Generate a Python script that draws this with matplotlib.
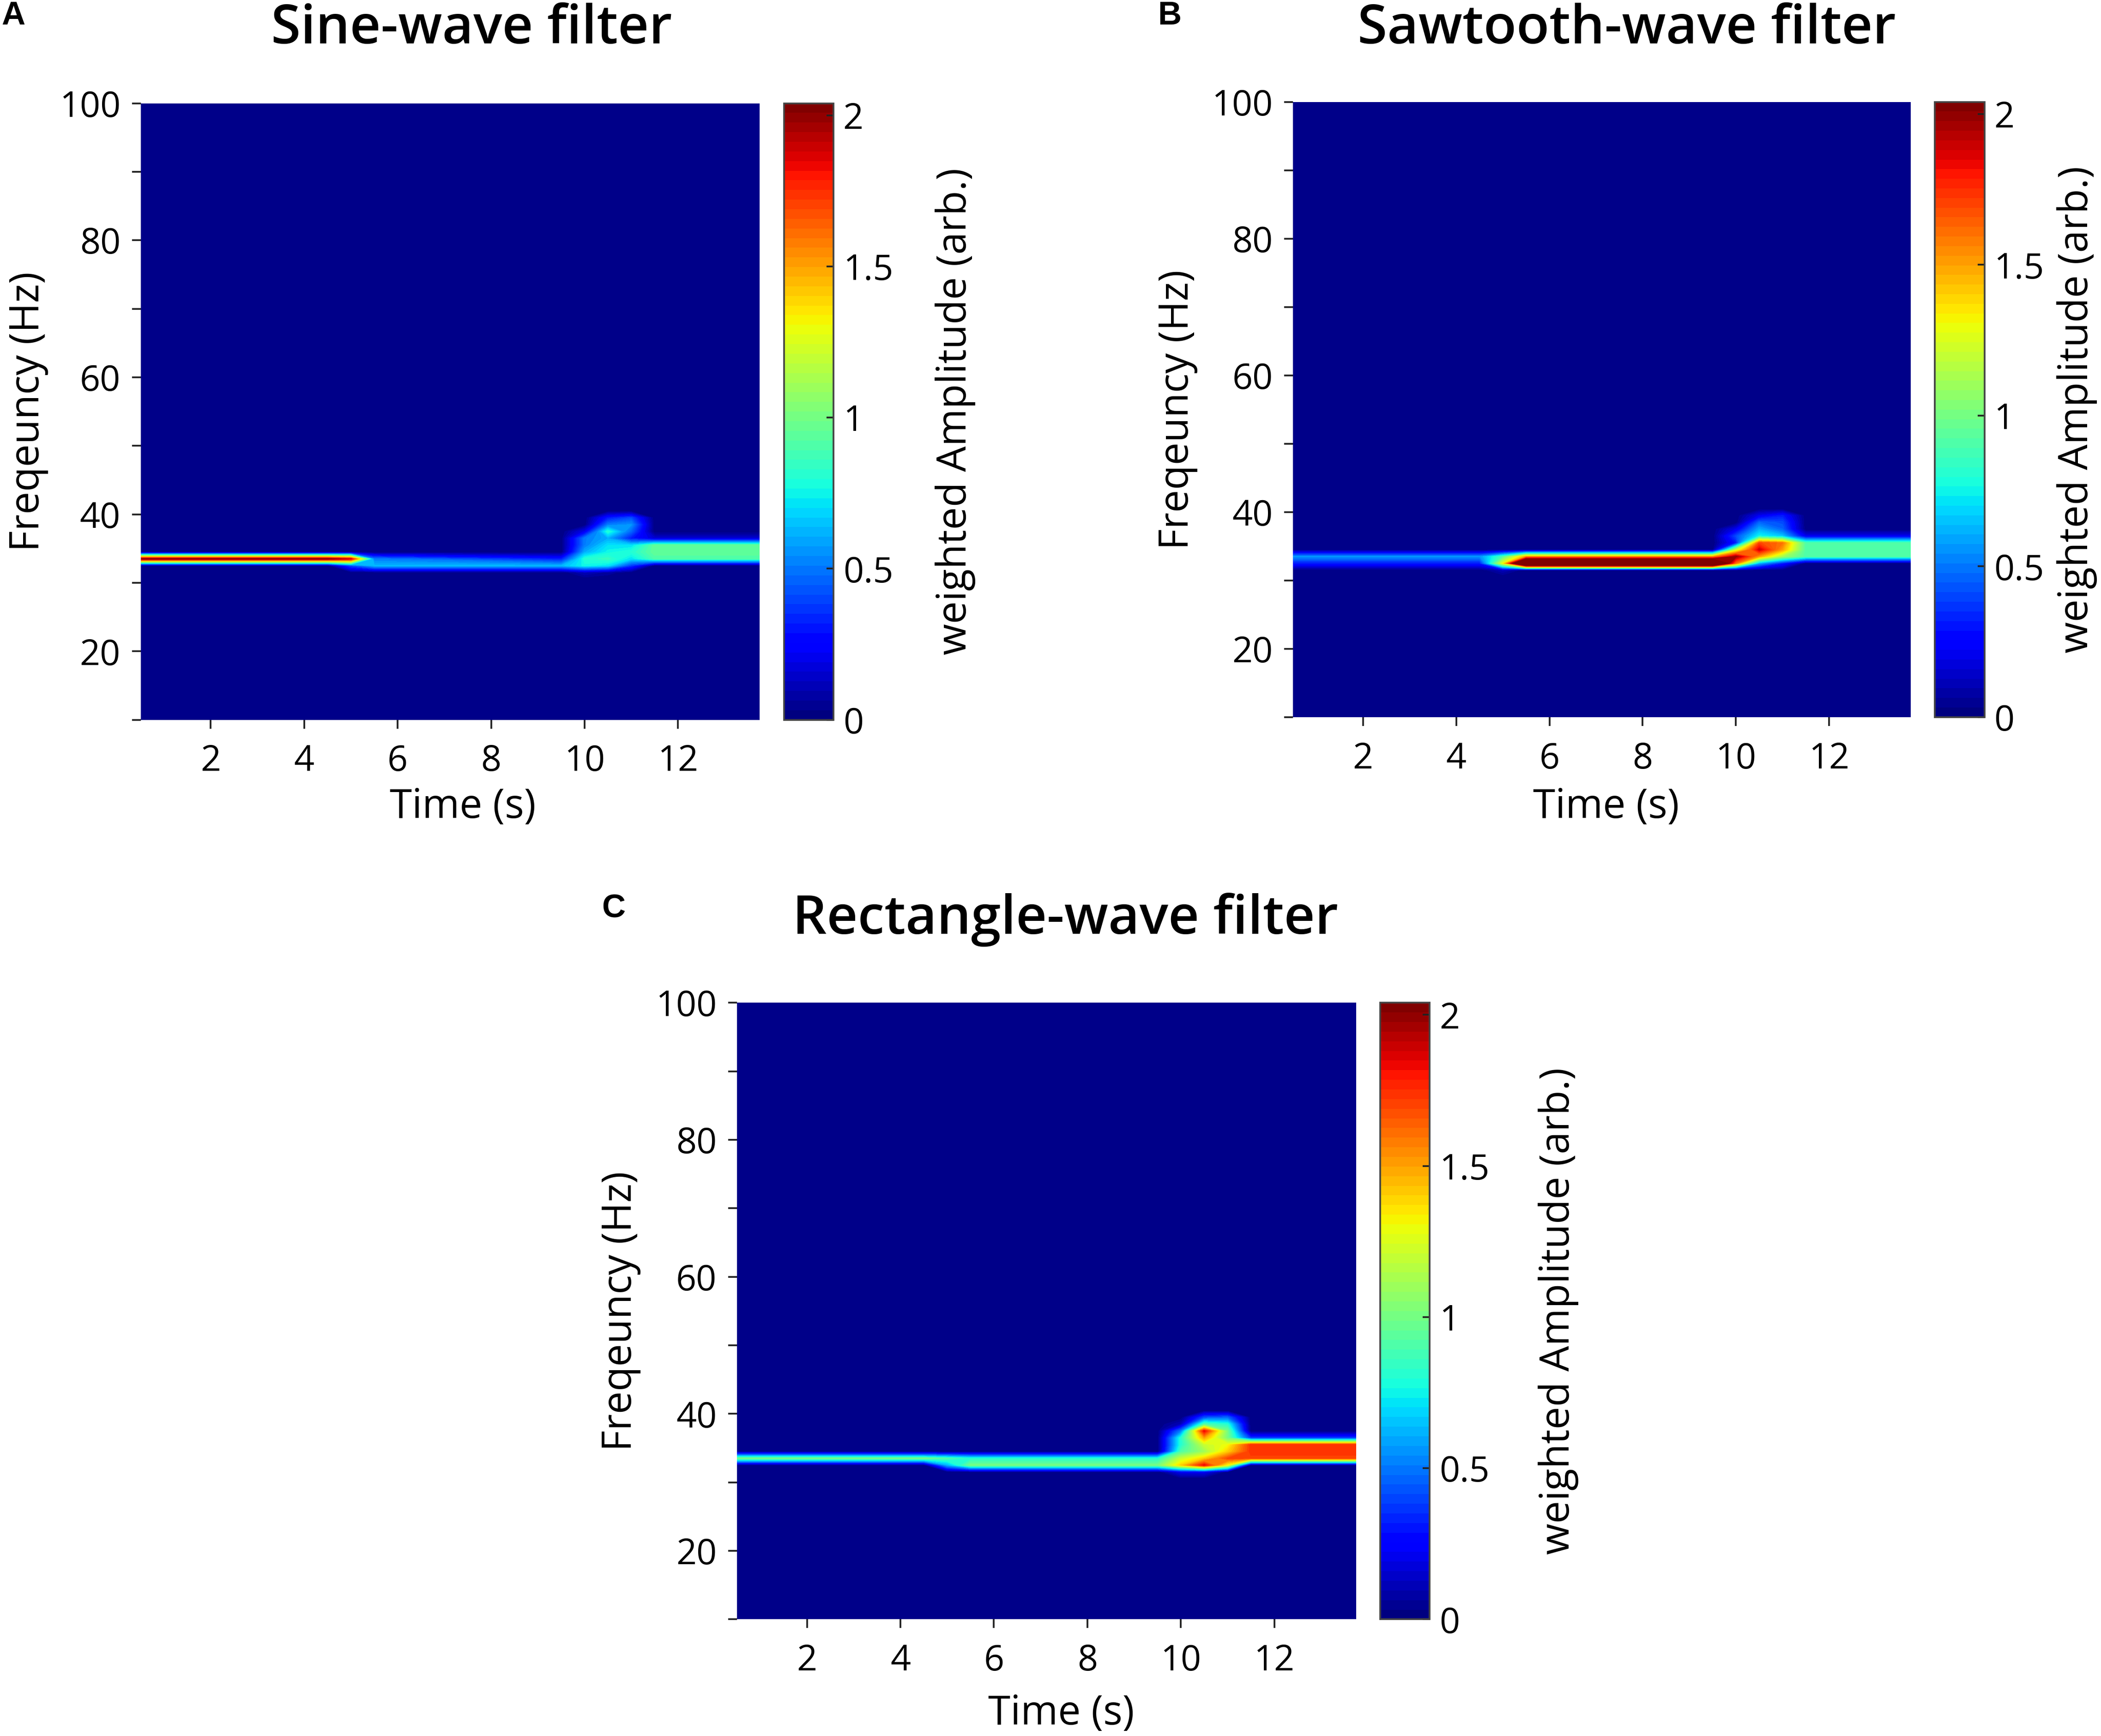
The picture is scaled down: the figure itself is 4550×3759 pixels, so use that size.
import numpy as np
import matplotlib
matplotlib.use("Agg")
import matplotlib.pyplot as plt
from matplotlib import cm, colors

# ---------------- data ----------------
TIME_S = [0.5, 4.5, 5.0, 5.5, 9.5, 10.0, 10.5, 11.0, 11.5, 13.75]
FREQ_HZ = [10, 30.5, 31.5, 32.5, 33.5, 34.5, 35.5, 36.5, 37.5, 38.5, 39.5, 40.5, 100]
# amplitude rows for 31.5 ... 39.5 Hz (other rows are zero)
SINE_BAND = [
    [0, 0, 0, 0, 0, 0.10, 0.05, 0, 0, 0],
    [0, 0, 0.40, 0.62, 0.62, 0.75, 0.70, 0.35, 0, 0],
    [2.05, 2.05, 1.90, 0.50, 0.30, 0.80, 0.85, 0.70, 0.90, 0.90],
    [0, 0, 0, 0, 0, 0.60, 0.75, 0.80, 0.95, 0.95],
    [0, 0, 0, 0, 0, 0.50, 0.70, 0.70, 0.95, 0.95],
    [0, 0, 0, 0, 0, 0.50, 0.60, 0.30, 0.15, 0.15],
    [0, 0, 0, 0, 0, 0.20, 0.80, 0.45, 0, 0],
    [0, 0, 0, 0, 0, 0, 0.50, 0.55, 0, 0],
    [0, 0, 0, 0, 0, 0, 0.30, 0.40, 0, 0],
]
SAW_BAND = [
    [0, 0, 0.10, 0, 0, 0, 0, 0, 0, 0],
    [0.30, 0.30, 1.30, 3.00, 3.00, 1.60, 0.60, 0.30, 0, 0],
    [0.55, 0.55, 0.90, 1.50, 1.50, 2.00, 1.50, 1.10, 0.90, 0.90],
    [0, 0, 0, 0, 0, 1.20, 1.90, 1.50, 0.90, 0.90],
    [0, 0, 0, 0, 0, 0.30, 1.70, 1.60, 0.90, 0.90],
    [0, 0, 0, 0, 0, 0.40, 0.75, 0.65, 0.20, 0.20],
    [0, 0, 0, 0, 0, 0.20, 0.60, 0.45, 0, 0],
    [0, 0, 0, 0, 0, 0, 0.45, 0.40, 0, 0],
    [0, 0, 0, 0, 0, 0, 0.20, 0.30, 0, 0],
]
RECT_BAND = [
    [0, 0, 0, 0, 0, 0.20, 0.20, 0, 0, 0],
    [0, 0, 0.60, 1.00, 1.00, 1.40, 1.85, 1.30, 0, 0],
    [1.00, 1.00, 0.90, 0.80, 0.80, 1.20, 1.40, 1.70, 1.70, 1.70],
    [0, 0, 0, 0, 0, 0.90, 1.10, 1.40, 1.75, 1.75],
    [0, 0, 0, 0, 0, 0.80, 1.20, 1.30, 1.75, 1.75],
    [0, 0, 0, 0, 0, 0.80, 1.50, 1.00, 0.35, 0.35],
    [0, 0, 0, 0, 0, 0.50, 1.85, 1.00, 0, 0],
    [0, 0, 0, 0, 0, 0.10, 0.90, 0.80, 0, 0],
    [0, 0, 0, 0, 0, 0, 0.40, 0.45, 0, 0],
]
TITLES = ["Sine-wave filter", "Sawtooth-wave filter", "Rectangle-wave filter"]
LETTERS = ["A", "B", "C"]
VMAX = 2.04
CBAR_TICKS = [0, 0.5, 1, 1.5, 2]
CBAR_TICK_LABELS = ["0", "0.5", "1", "1.5", "2"]
X_TICKS = [2, 4, 6, 8, 10, 12]
Y_TICKS = [20, 40, 60, 80, 100]
Y_MINOR = [10, 30, 50, 70, 90]
XLIM = (0.5, 13.75)
YLIM = (10, 100)

# ---------------- layout ----------------
W, H = 1568.0, 1295.0
def fx(x): return x / W
def fy(y): return 1 - y / H

PANELS = [
    dict(ax=(105, 567, 77, 537), cb=(585, 622), title=(352, 22), letter=(10, 12),
         ylab=-0.149, xlab=(0.52, -0.109), cblab=3.05),
    dict(ax=(965, 1426, 76, 535), cb=(1444, 1481), title=(1214, 22), letter=(873, 12),
         ylab=-0.154, xlab=(0.507, -0.113), cblab=2.46),
    dict(ax=(550, 1012, 748, 1208), cb=(1030, 1067), title=(795, 686), letter=(458, 678),
         ylab=-0.155, xlab=(0.524, -0.12), cblab=3.19),
]
BANDS = [SINE_BAND, SAW_BAND, RECT_BAND]

FONT = ["Open Sans", "DejaVu Sans"]
plt.rcParams["font.family"] = FONT

fig = plt.figure(figsize=(4550 / 300, 3759 / 300), dpi=300)

cmap = plt.get_cmap("jet").copy()
cmap.set_over(cmap(1.0))
levels = np.linspace(0, VMAX, 65)

for band, p, title, letter in zip(BANDS, PANELS, TITLES, LETTERS):
    l, r, t, b = p["ax"]
    ax = fig.add_axes([fx(l), fy(b), fx(r) - fx(l), fy(t) - fy(b)])
    Z = np.zeros((len(FREQ_HZ), len(TIME_S)))
    Z[2:11, :] = np.array(band)
    ax.contourf(TIME_S, FREQ_HZ, Z, levels=levels, cmap=cmap, extend="max",
                antialiased=False)
    ax.set_xlim(*XLIM)
    ax.set_ylim(*YLIM)
    ax.set_xticks(X_TICKS)
    ax.set_yticks(Y_TICKS)
    ax.set_yticks(Y_MINOR, minor=True)
    for s in ax.spines.values():
        s.set_visible(False)
    ax.tick_params(axis="both", which="both", direction="out", length=4.5,
                   width=0.9, color="#222222", labelsize=18.5, pad=6)
    ax.tick_params(axis="x", pad=8)
    ax.set_xlabel("Time (s)", fontsize=21)
    ax.set_ylabel("Freqeuncy (Hz)", fontsize=21)
    ax.xaxis.set_label_coords(*p["xlab"])
    ax.yaxis.set_label_coords(p["ylab"], 0.5)

    c0, c1 = p["cb"]
    cax = fig.add_axes([fx(c0), fy(b), fx(c1) - fx(c0), fy(t) - fy(b)])
    sm = cm.ScalarMappable(norm=colors.Normalize(0, VMAX), cmap=plt.get_cmap("jet", 64))
    cb = fig.colorbar(sm, cax=cax, ticks=CBAR_TICKS)
    cb.set_ticklabels(CBAR_TICK_LABELS)
    cb.outline.set_edgecolor("#444444")
    cb.outline.set_linewidth(0.9)
    cax.tick_params(direction="in", length=3.5, width=0.9, color="#222222",
                    labelsize=18.5, pad=5)
    cb.set_label("weighted Amplitude (arb.)", fontsize=21)
    cax.yaxis.set_label_coords(p["cblab"], 0.5)

    fig.text(fx(p["title"][0]), fy(p["title"][1]), title, fontsize=28,
             fontweight="semibold", ha="center", va="center")
    fig.text(fx(p["letter"][0]), fy(p["letter"][1]), letter, fontsize=17,
             fontweight="bold", ha="center", va="center",
             family=["Liberation Sans", "DejaVu Sans"])

fig.savefig("out.png", dpi=300)
